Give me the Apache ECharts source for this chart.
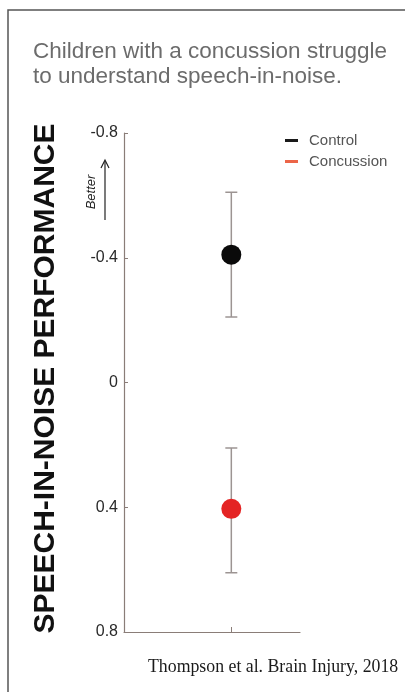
<!DOCTYPE html>
<html>
<head>
<meta charset="utf-8">
<script src="https://cdn.jsdelivr.net/npm/echarts@6/dist/echarts.min.js"></script>
<style>
  html, body { margin: 0; padding: 0; background: #fff; }
  #chart { width: 405px; height: 692px; }
</style>
</head>
<body>
<div id="chart"></div>
<script>
// ---- data ----
const titleLines = ['Children with a concussion struggle', 'to understand speech-in-noise.'];
const groups = ['Control', 'Concussion'];
const groupX = [1, 1];
const means = [-0.41, 0.405];
const lower = [-0.61, 0.21];
const upper = [-0.21, 0.61];
const yTicks = [-0.8, -0.4, 0, 0.4, 0.8];
const yAxisName = 'SPEECH-IN-NOISE PERFORMANCE';
const citation = 'Thompson et al. Brain Injury, 2018';
const betterLabel = 'Better';

const pointColors = ['#0a0a0a', '#e42424'];
const legendColors = ['#1a1a1a', '#ec6548'];
const axisColor = '#8a7d78';
const barColor = '#9c9492';

const chart = echarts.init(document.getElementById('chart'), null, { renderer: 'canvas' });

const errData = groups.map((g, i) => [groupX[i], lower[i], upper[i]]);

const option = {
  backgroundColor: '#ffffff',
  animation: false,
  title: {
    text: titleLines.join('\n'),
    left: 33,
    top: 39,
    padding: 0,
    textStyle: {
      fontFamily: 'Liberation Sans, Arial, sans-serif',
      fontSize: 22.5,
      fontWeight: 'normal',
      color: '#6c6c6c',
      lineHeight: 25
    }
  },
  legend: {
    orient: 'vertical',
    left: 285,
    top: 133,
    padding: 0,
    itemWidth: 13,
    itemHeight: 3,
    itemGap: 6,
    icon: 'rect',
    data: groups.map((g, i) => ({ name: g, itemStyle: { color: legendColors[i] } })),
    textStyle: {
      fontFamily: 'Liberation Sans, Arial, sans-serif',
      fontSize: 15,
      color: '#555',
      padding: [0, 0, 0, 6]
    }
  },
  grid: { left: 124, right: 105, top: 133, bottom: 60 },
  xAxis: {
    type: 'value',
    min: 0,
    max: 1.64,
    splitLine: { show: false },
    axisLine: { show: true, onZero: false, lineStyle: { color: axisColor, width: 1.2 } },
    axisTick: { show: true, inside: true, length: 5, customValues: groupX.slice(0, 1), lineStyle: { color: axisColor } },
    axisLabel: { show: false }
  },
  yAxis: {
    type: 'value',
    inverse: true,
    min: yTicks[0],
    max: yTicks[yTicks.length - 1],
    interval: 0.4,
    name: yAxisName,
    nameLocation: 'middle',
    nameRotate: 90,
    nameGap: 63,
    nameTextStyle: {
      fontFamily: 'Liberation Sans, Arial, sans-serif',
      fontSize: 30,
      fontWeight: 'bold',
      color: '#111',
      padding: [0, 0, 0, 8]
    },
    splitLine: { show: false },
    axisLine: { show: true, onZero: false, lineStyle: { color: axisColor, width: 1.2 } },
    axisTick: { show: true, inside: true, length: 4, lineStyle: { color: axisColor } },
    axisLabel: {
      margin: 6,
      fontFamily: 'Liberation Sans, Arial, sans-serif',
      fontSize: 16,
      color: '#2a2a2a',
      formatter: v => String(Math.round(v * 10) / 10)
    }
  },
  series: [
    {
      type: 'custom',
      name: 'err',
      z: 1,
      silent: true,
      data: errData,
      renderItem: function (params, api) {
        const x = api.value(0);
        const top = api.coord([x, api.value(1)]);
        const bot = api.coord([x, api.value(2)]);
        const hw = 6;
        const style = { stroke: barColor, lineWidth: 1.5 };
        return {
          type: 'group',
          children: [
            { type: 'line', shape: { x1: top[0], y1: top[1], x2: bot[0], y2: bot[1] }, style },
            { type: 'line', shape: { x1: top[0] - hw, y1: top[1], x2: top[0] + hw, y2: top[1] }, style },
            { type: 'line', shape: { x1: bot[0] - hw, y1: bot[1], x2: bot[0] + hw, y2: bot[1] }, style }
          ]
        };
      }
    },
    ...groups.map((g, i) => ({
      type: 'scatter',
      name: g,
      z: 5,
      symbolSize: 20,
      itemStyle: { color: pointColors[i], opacity: 1 },
      data: [[groupX[i], means[i]]]
    }))
  ],
  graphic: [
    {
      type: 'rect',
      shape: { x: 8, y: 10, width: 430, height: 720 },
      style: { fill: 'none', stroke: '#555', lineWidth: 1.5 },
      silent: true
    },
    {
      type: 'text',
      x: 91,
      y: 192,
      rotation: Math.PI / 2,
      style: {
        text: betterLabel,
        fontFamily: 'Liberation Sans, Arial, sans-serif',
        fontSize: 13,
        fontStyle: 'italic',
        fill: '#222',
        align: 'center',
        verticalAlign: 'middle'
      }
    },
    {
      type: 'line',
      shape: { x1: 105, y1: 220, x2: 105, y2: 161 },
      style: { stroke: '#222', lineWidth: 1.2 }
    },
    {
      type: 'polyline',
      shape: { points: [[101, 168], [105, 160], [109, 168]] },
      style: { stroke: '#222', lineWidth: 1.2, fill: 'none' }
    },
    {
      type: 'text',
      x: 148,
      y: 667,
      style: {
        text: citation,
        fontFamily: 'Liberation Serif, Times New Roman, serif',
        fontSize: 17.8,
        fill: '#1a1a1a',
        align: 'left',
        verticalAlign: 'middle'
      }
    }
  ]
};

chart.setOption(option);
</script>
</body>
</html>
